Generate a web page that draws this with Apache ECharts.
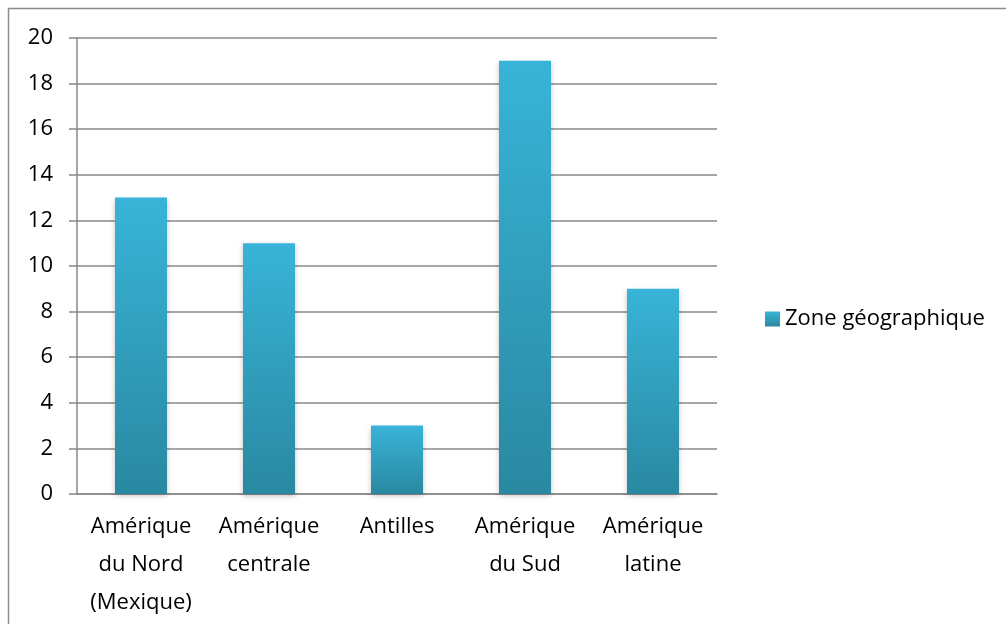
<!DOCTYPE html>
<html>
<head>
<meta charset="utf-8">
<script src="https://cdn.jsdelivr.net/npm/echarts@6/dist/echarts.min.js"></script>
<style>
  html, body { margin: 0; padding: 0; background: #fff; }
  #chart { width: 1006px; height: 624px; }
</style>
</head>
<body>
<div id="chart"></div>
<script>
// data
const categories = ['Amérique\ndu Nord\n(Mexique)', 'Amérique\ncentrale', 'Antilles', 'Amérique\ndu Sud', 'Amérique\nlatine'];
const values = [13, 11, 3, 19, 9];
const seriesName = 'Zone géographique';

const chart = echarts.init(document.getElementById('chart'));
const font = '"Open Sans", "DejaVu Sans", sans-serif';
const barGradient = new echarts.graphic.LinearGradient(0, 0, 0, 1, [
  { offset: 0, color: '#38b4d8' },
  { offset: 1, color: '#2a88a1' }
]);

chart.setOption({
  animation: false,
  textStyle: { fontFamily: font },
  graphic: [{
    type: 'rect',
    shape: { x: 8.5, y: 8.5, width: 1010, height: 630 },
    style: { fill: 'none', stroke: '#8c8c8c', lineWidth: 1.5 }
  }],
  grid: { left: 77, top: 38, right: 289, bottom: 130 },
  legend: {
    left: 760, top: 303,
    itemWidth: 15, itemHeight: 15, itemGap: 6,
    icon: 'rect',
    textStyle: { fontSize: 22, color: '#000', fontFamily: font },
    data: [{ name: seriesName, itemStyle: { color: barGradient } }]
  },
  xAxis: {
    type: 'category',
    data: categories,
    axisLine: { lineStyle: { color: '#888', width: 1.5 } },
    axisTick: { length: 9, lineStyle: { color: '#888', width: 1.5 } },
    axisLabel: { fontSize: 22, color: '#000', lineHeight: 38, margin: 14, interval: 0, fontFamily: font }
  },
  yAxis: {
    type: 'value',
    min: 0, max: 20, interval: 2,
    axisLine: { show: true, lineStyle: { color: '#888', width: 1.5 } },
    axisTick: { show: true, length: 8, lineStyle: { color: '#888', width: 1.5 } },
    splitLine: { lineStyle: { color: '#888', width: 1.5 } },
    axisLabel: { fontSize: 22, color: '#000', margin: 24, fontFamily: font }
  },
  series: [{
    name: seriesName,
    type: 'bar',
    data: values,
    barWidth: 52,
    itemStyle: {
      color: barGradient,
      shadowColor: 'rgba(0,0,0,0.25)',
      shadowBlur: 5,
      shadowOffsetY: 2
    }
  }]
});
</script>
</body>
</html>
